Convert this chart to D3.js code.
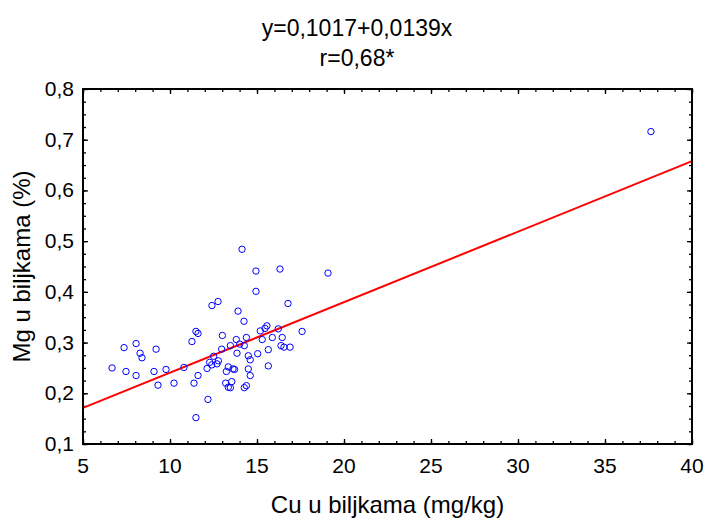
<!DOCTYPE html>
<html>
<head>
<meta charset="utf-8">
<script src="https://cdn.jsdelivr.net/npm/d3@7"></script>
<style>
  body { margin: 0; background: #fff; }
  text { font-family: "Liberation Sans", Arial, sans-serif; fill: #000; }
</style>
</head>
<body>
<div id="chart"></div>
<script>
// Cu in plants (mg/kg)
var cuValues = [6.67, 7.47, 7.36, 8.05, 8.28, 8.39, 8.05, 9.08, 9.20, 9.31,
  9.77, 10.23, 10.80, 11.26, 11.49, 11.61, 11.38, 11.61, 12.18, 11.49,
  12.41, 12.76, 14.14, 14.94, 14.94, 13.91, 14.25, 16.32, 19.08, 16.78,
  17.59, 12.51, 12.28, 12.40, 12.70, 12.78, 12.13, 13.01, 12.97, 13.47,
  13.81, 14.01, 14.39, 14.27, 13.85, 15.19, 15.46, 15.57, 16.22, 15.88,
  16.45, 15.30, 15.65, 16.38, 15.04, 14.50, 14.61, 15.65, 13.35, 13.62,
  13.71, 13.24, 14.50, 14.61, 13.20, 13.55, 13.35, 13.47, 14.39, 14.27,
  16.55, 16.90, 37.64]
// Mg in plants (%)
var mgValues = [0.250, 0.243, 0.290, 0.298, 0.279, 0.270, 0.235, 0.243, 0.287, 0.216,
  0.247, 0.220, 0.251, 0.302, 0.322, 0.318, 0.220, 0.235, 0.188, 0.152,
  0.373, 0.381, 0.484, 0.441, 0.401, 0.362, 0.342, 0.445, 0.437, 0.377,
  0.322, 0.273, 0.261, 0.256, 0.258, 0.264, 0.249, 0.314, 0.287, 0.294,
  0.306, 0.297, 0.310, 0.294, 0.279, 0.323, 0.328, 0.333, 0.327, 0.310,
  0.310, 0.306, 0.286, 0.294, 0.278, 0.274, 0.266, 0.254, 0.252, 0.248,
  0.247, 0.243, 0.248, 0.235, 0.220, 0.223, 0.212, 0.211, 0.215, 0.211,
  0.291, 0.291, 0.716]

var intercept = 0.1017
var slope = 0.0139

var xTicks = [5, 10, 15, 20, 25, 30, 35, 40]
var yTicks = [0.1, 0.2, 0.3, 0.4, 0.5, 0.6, 0.7, 0.8]
var titleLines = ["y=0,1017+0,0139x", "r=0,68*"]
var xAxisLabel = "Cu u biljkama (mg/kg)"
var yAxisLabel = "Mg u biljkama (%)"

var W = 706, H = 519
var margin = { top: 89, right: 14, bottom: 75, left: 83 },
  width = W - margin.left - margin.right,
  height = H - margin.top - margin.bottom;

var svg = d3.select("#chart")
  .append("svg")
  .attr("width", W)
  .attr("height", H)

var g = svg.append("g")
  .attr("transform", "translate(" + margin.left + "," + margin.top + ")")

var x = d3.scaleLinear().domain([5, 40]).range([0, width])
var y = d3.scaleLinear().domain([0.1, 0.8]).range([height, 0])

var fmt = function (d) { return d3.format(".1f")(d).replace(".", ",") }

// minor ticks: every 1 on x, every 0.025 on y
var xMinor = d3.range(5, 40.001, 1)
var yMinor = d3.range(0, 29).map(function (i) { return 0.1 + i * 0.025 })

function tickAxis(axisFn, scale, values, size) {
  return axisFn(scale).tickValues(values).tickSize(size).tickFormat("")
}

// inward ticks on all four sides
var bottomG = g.append("g").attr("transform", "translate(0," + height + ")")
bottomG.call(tickAxis(d3.axisTop, x, xMinor, 3))
bottomG.append("g").call(tickAxis(d3.axisTop, x, xTicks, 5))
var topG = g.append("g")
topG.call(tickAxis(d3.axisBottom, x, xMinor, 3))
topG.append("g").call(tickAxis(d3.axisBottom, x, xTicks, 5))
var leftG = g.append("g")
leftG.call(tickAxis(d3.axisRight, y, yMinor, 3))
leftG.append("g").call(tickAxis(d3.axisRight, y, yTicks, 5))
var rightG = g.append("g").attr("transform", "translate(" + width + ",0)")
rightG.call(tickAxis(d3.axisLeft, y, yMinor, 3))
rightG.append("g").call(tickAxis(d3.axisLeft, y, yTicks, 5))

g.selectAll(".domain").remove()
g.selectAll(".tick line").attr("stroke", "#000").attr("stroke-width", 1.3)

// tick labels
g.selectAll(".xlab")
  .data(xTicks)
  .enter()
  .append("text")
  .attr("x", function (d) { return x(d) })
  .attr("y", height + 29)
  .attr("text-anchor", "middle")
  .attr("font-size", 21)
  .text(function (d) { return d })

g.selectAll(".ylab")
  .data(yTicks)
  .enter()
  .append("text")
  .attr("x", -9)
  .attr("y", function (d) { return y(d) + 7 })
  .attr("text-anchor", "end")
  .attr("font-size", 21)
  .text(fmt)

// regression line
g.append("line")
  .attr("x1", x(5))
  .attr("y1", y(intercept + slope * 5))
  .attr("x2", x(40))
  .attr("y2", y(intercept + slope * 40))
  .attr("stroke", "#ff0000")
  .attr("stroke-width", 2)

// points
g.selectAll("circle")
  .data(cuValues)
  .enter()
  .append("circle")
  .attr("cx", function (d) { return x(d) })
  .attr("cy", function (d, i) { return y(mgValues[i]) })
  .attr("r", 3.2)
  .attr("fill", "none")
  .attr("stroke", "#0000ff")
  .attr("stroke-width", 1)

// frame
g.append("rect")
  .attr("width", width)
  .attr("height", height)
  .attr("fill", "none")
  .attr("stroke", "#000")
  .attr("stroke-width", 2)

// title
svg.selectAll(".title")
  .data(titleLines)
  .enter()
  .append("text")
  .attr("x", 357)
  .attr("y", function (d, i) { return 36 + i * 30 })
  .attr("text-anchor", "middle")
  .attr("font-size", 23)
  .text(function (d) { return d })

svg.append("text")
  .attr("x", margin.left + width / 2)
  .attr("y", 513)
  .attr("text-anchor", "middle")
  .attr("font-size", 24)
  .text(xAxisLabel)

svg.append("text")
  .attr("transform", "translate(30," + (margin.top + height / 2) + ") rotate(-90)")
  .attr("text-anchor", "middle")
  .attr("font-size", 24)
  .text(yAxisLabel)
</script>
</body>
</html>
